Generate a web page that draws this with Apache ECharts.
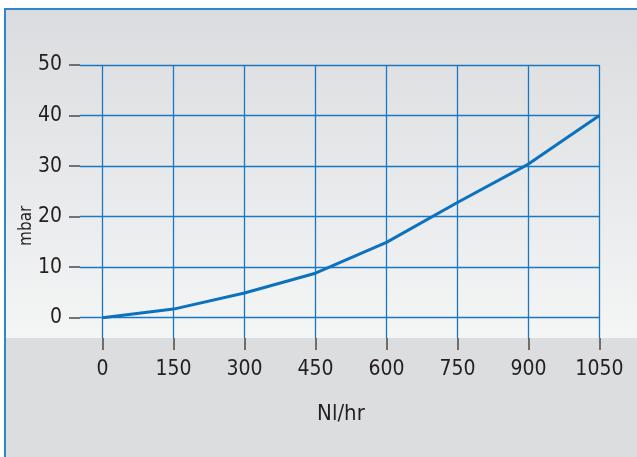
<!DOCTYPE html>
<html>
<head>
<meta charset="utf-8">
<script src="https://cdn.jsdelivr.net/npm/echarts@6/dist/echarts.min.js"></script>
<style>
  html, body { margin: 0; padding: 0; background: #ffffff; width: 637px; height: 457px; overflow: hidden; }
  #frame {
    position: absolute; left: 4px; top: 8px; width: 660px; height: 480px;
    border-left: 2px solid #2f86cd; border-top: 2px solid #2f86cd;
    background: linear-gradient(to bottom, #dbdcdf 0px, #f4f5f5 328px, #dcdddf 328px, #dcdddf 100%);
  }
  #chart { position: absolute; left: 0; top: 0; width: 637px; height: 457px; }
</style>
</head>
<body>
<div id="frame"></div>
<div id="chart"></div>
<script>
// Data
const flowValues = [0, 150, 300, 450, 600, 750, 900, 1050];      // Nl/hr
const pressureValues = [0, 1.7, 4.9, 8.8, 14.9, 22.8, 30.4, 40]; // mbar
const xTickLabels = ['0', '150', '300', '450', '600', '750', '900', '1050'];
const yTickLabels = ['0', '10', '20', '30', '40', '50'];
const xAxisName = 'Nl/hr';
const yAxisName = 'mbar';

const FONT = "'DejaVu Sans Condensed', 'Liberation Sans Narrow', sans-serif";
const GRID_COLOR = '#1a77c3';
const TICK_COLOR = '#4a4a4a';
const TEXT_COLOR = '#231f20';

const chart = echarts.init(document.getElementById('chart'), null, { renderer: 'canvas' });

const option = {
  backgroundColor: 'transparent',
  animation: false,
  grid: [
    // data grid
    { left: 102.5, top: 65, width: 496.9, height: 252.7 },
    // horizontal grid lines + y labels
    { left: 80, top: 65, width: 519.4, height: 252.7 },
    // vertical grid lines + x labels
    { left: 102.5, top: 65, width: 496.9, height: 273 }
  ],
  xAxis: [
    { gridIndex: 0, type: 'value', min: 0, max: 1050, show: false },
    { gridIndex: 1, type: 'value', min: 0, max: 1, show: false },
    {
      gridIndex: 2, type: 'value', min: 0, max: 1050, interval: 150,
      axisLine: { show: false },
      axisTick: { show: true, length: 12, lineStyle: { color: TICK_COLOR, width: 1.5 } },
      splitLine: { show: true, lineStyle: { color: GRID_COLOR, width: 1.3 } },
      axisLabel: {
        margin: 21, fontSize: 21, color: TEXT_COLOR, fontFamily: FONT,
        formatter: function (v) { const i = flowValues.indexOf(v); return i >= 0 ? xTickLabels[i] : ''; }
      },
      name: xAxisName, nameLocation: 'middle', nameGap: 65,
      nameTextStyle: { fontSize: 22, color: TEXT_COLOR, fontFamily: FONT, padding: [0, 20, 0, 0] }
    }
  ],
  yAxis: [
    { gridIndex: 0, type: 'value', min: 0, max: 50, show: false },
    {
      gridIndex: 1, type: 'value', min: 0, max: 50, interval: 10,
      axisLine: { show: false },
      axisTick: { show: true, length: 11, lineStyle: { color: TICK_COLOR, width: 1.5 } },
      splitLine: { show: true, lineStyle: { color: GRID_COLOR, width: 1.3 } },
      axisLabel: {
        margin: 18, fontSize: 21, color: TEXT_COLOR, fontFamily: FONT,
        formatter: function (v) { return yTickLabels[Math.round(v / 10)]; }
      },
      name: yAxisName, nameLocation: 'middle', nameGap: 45, nameRotate: 90,
      nameMoveOverlap: false,
      nameTextStyle: { fontSize: 17, color: TEXT_COLOR, fontFamily: FONT, padding: [0, 69, 0, 0] }
    },
    { gridIndex: 2, type: 'value', min: 0, max: 1, show: false }
  ],
  series: [
    {
      type: 'line',
      xAxisIndex: 0, yAxisIndex: 0,
      data: flowValues.map((x, i) => [x, pressureValues[i]]),
      showSymbol: false, symbol: 'none',
      lineStyle: { color: '#0b72bd', width: 3 },
      z: 10
    }
  ]
};
chart.setOption(option);
</script>
</body>
</html>
